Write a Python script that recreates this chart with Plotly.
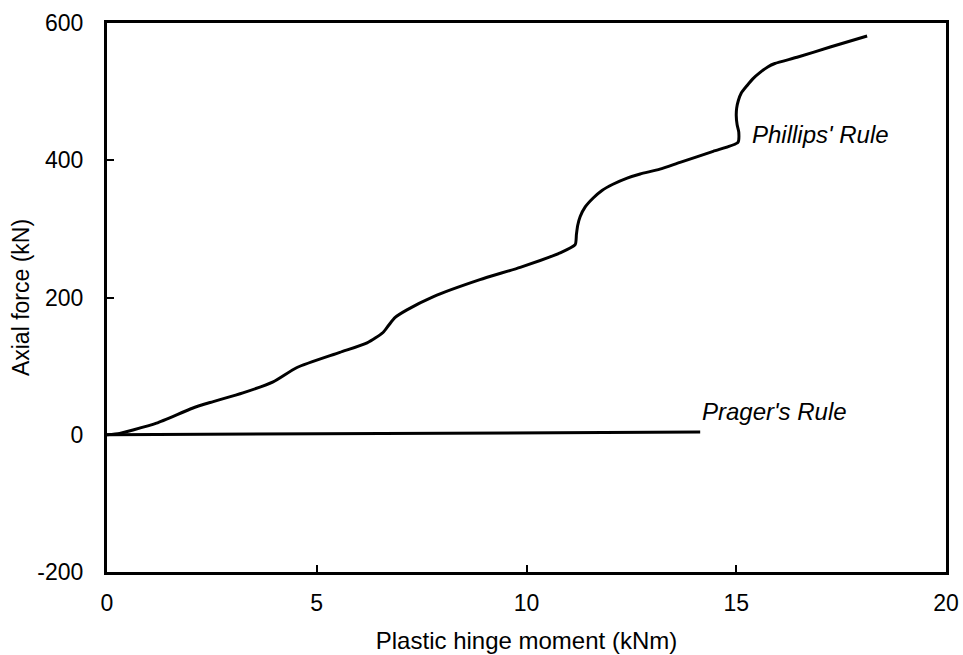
import plotly.graph_objects as go

# Phillips' rule: axial force against plastic hinge moment
phillips_moment = [0.0, 0.3, 0.62, 1.18, 2.05, 2.46, 3.24, 3.96, 4.53, 5.55, 6.2, 6.58,
                   6.72, 6.87, 7.15, 7.77, 8.89, 9.85, 10.8, 11.16, 11.19, 11.22, 11.28, 11.4,
                   11.59, 11.8, 12.06, 12.4, 12.71, 13.18, 13.66, 14.45, 15.04, 15.06, 15.02, 15.0,
                   15.01, 15.05, 15.12, 15.26, 15.4, 15.57, 15.75, 15.92, 16.45, 17.24, 18.12]
phillips_force = [0, 2, 7, 17, 39, 47, 61, 77, 98, 120, 134, 149,
                  160, 171, 182, 201, 226, 244, 265, 277, 292, 305, 318, 332,
                  345, 356, 365, 374, 380, 387, 397, 413, 426, 441, 452, 465,
                  476, 487, 498, 509, 519, 528, 536, 541, 550, 565, 581]

# Prager's rule: nearly zero axial force
prager_moment = [0.0, 7.0, 14.14]
prager_force = [0, 2, 4]

x_ticks = [0, 5, 10, 15, 20]
y_ticks = [-200, 0, 200, 400, 600]
y_tick_text = ["-200", "0", "200", "400", "600"]

FONT = "Liberation Sans, Arial, sans-serif"

fig = go.Figure()
fig.add_trace(go.Scatter(x=phillips_moment, y=phillips_force, mode="lines",
                         line=dict(color="black", width=3, shape="spline", smoothing=0.6),
                         showlegend=False))
fig.add_trace(go.Scatter(x=prager_moment, y=prager_force, mode="lines",
                         line=dict(color="black", width=3), showlegend=False))

fig.add_annotation(x=15.33, y=438, text="<i>Phillips' Rule</i>", showarrow=False,
                   xanchor="left", yanchor="middle", font=dict(family=FONT, size=24, color="black"))
fig.add_annotation(x=14.14, y=34, text="<i>Prager's Rule</i>", showarrow=False,
                   xanchor="left", yanchor="middle", font=dict(family=FONT, size=24, color="black"))

fig.update_layout(
    width=963, height=655,
    margin=dict(l=107, r=17, t=23, b=83),
    paper_bgcolor="white", plot_bgcolor="white",
    font=dict(family=FONT, size=23, color="black"),
)
fig.update_xaxes(range=[0, 20], tickvals=x_ticks, ticks="inside", ticklen=7, tickwidth=2,
                 tickcolor="black", showline=True, linecolor="black", linewidth=3,
                 mirror=True, showgrid=False, zeroline=False, ticklabelstandoff=8,
                 automargin=False, tickfont=dict(family=FONT, size=23),
                 title=dict(text="Plastic hinge moment (kNm)", standoff=18,
                            font=dict(family=FONT, size=24)))
fig.update_yaxes(range=[-200, 600], tickvals=y_ticks, ticktext=y_tick_text, ticks="inside",
                 ticklen=7, tickwidth=2, tickcolor="black", showline=True, linecolor="black",
                 linewidth=3, mirror=True, showgrid=False, zeroline=False, ticklabelstandoff=16,
                 automargin=False, tickfont=dict(family=FONT, size=23),
                 title=dict(text="Axial force (kN)", standoff=2,
                            font=dict(family=FONT, size=23)))

fig.write_html("out.html")
